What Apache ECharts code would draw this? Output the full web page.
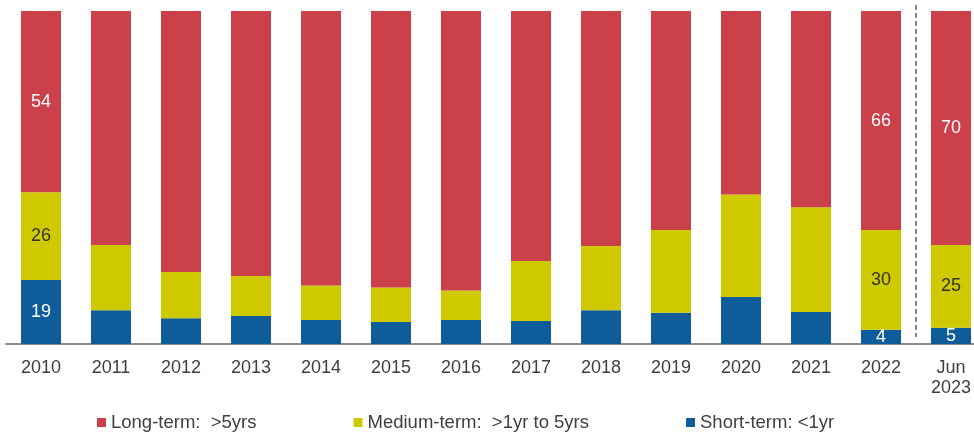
<!DOCTYPE html>
<html>
<head>
<meta charset="utf-8">
<script src="https://cdn.jsdelivr.net/npm/echarts@6/dist/echarts.min.js"></script>
<style>
  html, body { margin: 0; padding: 0; background: #fff; overflow: hidden; }
  /* a little wider than the window: the last category runs off the right edge */
  #chart { width: 986px; height: 433px; }
</style>
</head>
<body>
<div id="chart"></div>
<script>
const categories = ['2010', '2011', '2012', '2013', '2014', '2015', '2016', '2017', '2018', '2019', '2020', '2021', '2022', 'Jun\n2023']
const shortTerm = [19.2, 10.1, 7.7, 8.4, 7.2, 6.6, 7.2, 6.9, 10.1, 9.4, 14.1, 9.6, 4.3, 4.9]
const mediumTerm = [26.4, 19.6, 13.9, 12.0, 10.4, 10.4, 8.9, 18.0, 19.3, 24.8, 30.8, 31.5, 29.9, 24.8]
const longTerm = [54.4, 70.3, 78.4, 79.6, 82.4, 83.0, 83.9, 75.1, 70.6, 65.8, 55.1, 58.9, 65.8, 70.3]
// only these bars carry value labels
const labelled = ['2010', '2022', 'Jun\n2023']

const font = '"Liberation Sans", Arial, sans-serif'

const makeLabel = (color) => ({
  show: true,
  position: 'inside',
  color: color,
  fontSize: 18,
  fontFamily: font,
  formatter: (p) => labelled.includes(p.name) ? String(Math.round(p.value)) : ''
})

const chart = echarts.init(document.getElementById('chart'))
chart.setOption({
  animation: false,
  grid: { left: 6, right: 0, top: 11, bottom: 89 },
  legend: {
    left: 92,
    top: 408,
    icon: 'rect',
    itemWidth: 9,
    itemHeight: 9,
    itemGap: 97,
    textStyle: { fontSize: 18.5, color: '#404040', fontFamily: font },
    data: ['Long-term:  >5yrs', 'Medium-term:  >1yr to 5yrs', 'Short-term: <1yr']
  },
  xAxis: [
    {
      type: 'category',
      data: categories,
      axisLine: { lineStyle: { color: '#8c8c8c', width: 2 } },
      axisTick: { show: false },
      axisLabel: {
        color: '#404040',
        fontSize: 18,
        fontFamily: font,
        lineHeight: 20,
        margin: 14,
        interval: 0,
        verticalAlign: 'top'
      }
    },
    // hidden helper axis, one unit per category, for the divider line
    { type: 'value', min: 0, max: categories.length, show: false }
  ],
  yAxis: { type: 'value', min: 0, max: 100, show: false },
  series: [
    {
      name: 'Short-term: <1yr',
      type: 'bar',
      stack: 'total',
      barWidth: 40,
      itemStyle: { color: '#0e5c99' },
      label: makeLabel('#ffffff'),
      data: shortTerm
    },
    {
      name: 'Medium-term:  >1yr to 5yrs',
      type: 'bar',
      stack: 'total',
      barWidth: 40,
      itemStyle: { color: '#cfca00' },
      label: makeLabel('#333333'),
      data: mediumTerm
    },
    {
      name: 'Long-term:  >5yrs',
      type: 'bar',
      stack: 'total',
      barWidth: 40,
      itemStyle: { color: '#cc404a' },
      label: makeLabel('#ffffff'),
      data: longTerm
    },
    {
      // dashed divider between 2022 and Jun 2023
      type: 'line',
      xAxisIndex: 1,
      silent: true,
      clip: false,
      symbol: 'none',
      lineStyle: { color: '#666666', type: [5, 3], width: 1.5 },
      data: [[13, 101.8], [13, 2.1]]
    }
  ]
})
</script>
</body>
</html>
